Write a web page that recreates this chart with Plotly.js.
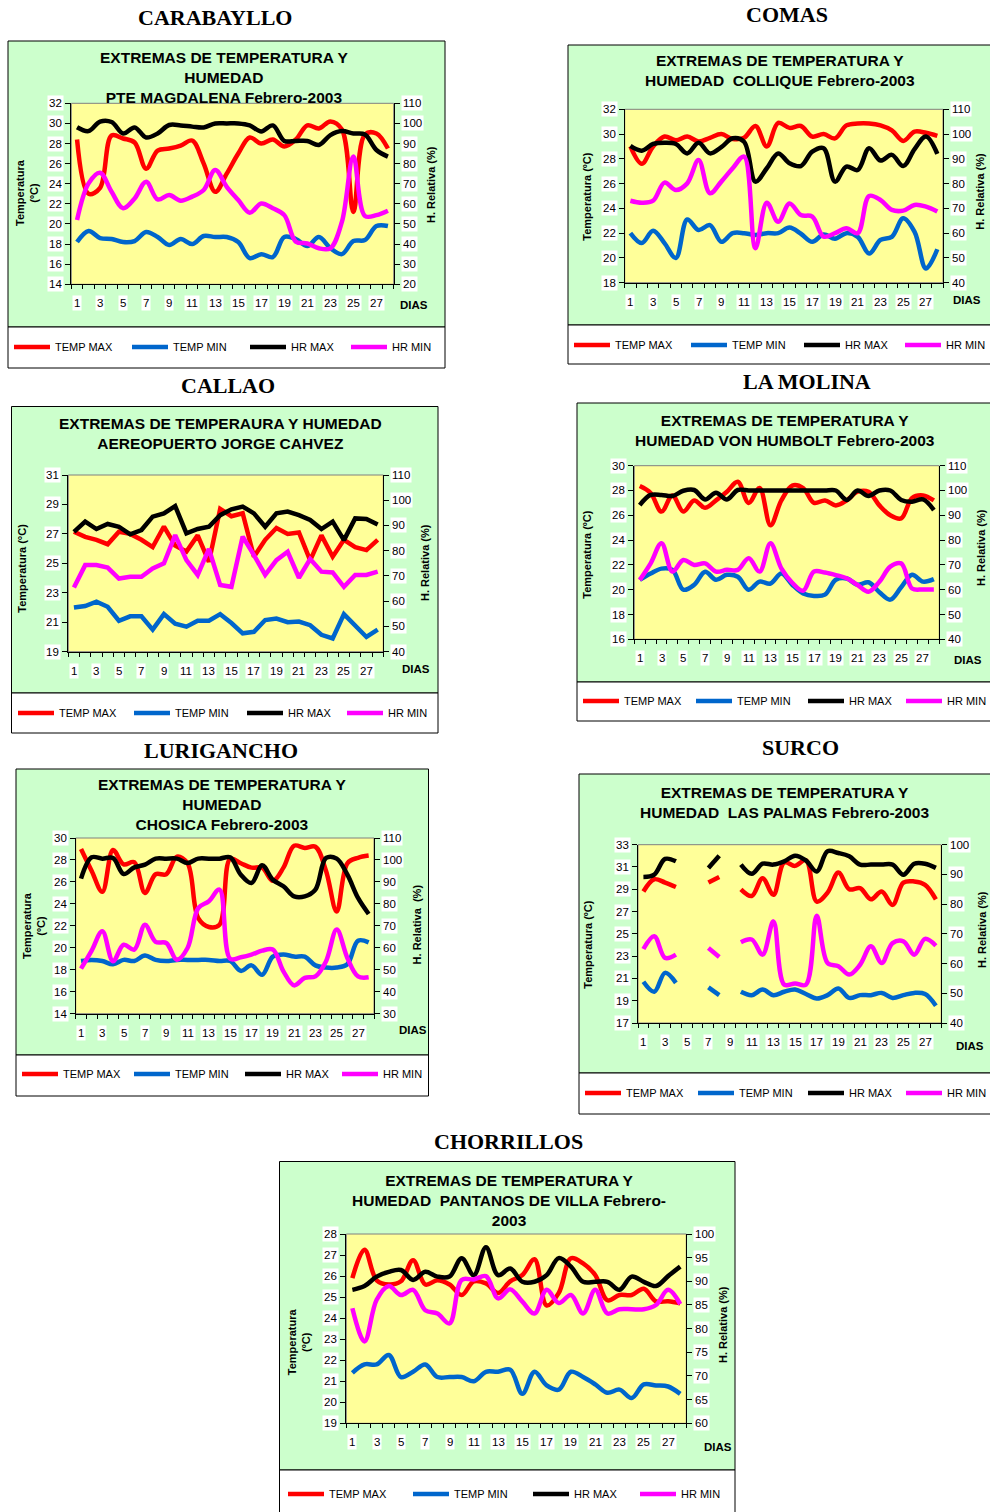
<!DOCTYPE html>
<html><head><meta charset="utf-8">
<script src="https://cdn.plot.ly/plotly-3.0.1.min.js"></script>
<style>body{margin:0;padding:0;background:#fff;overflow:hidden}</style>
</head><body><div id="chart" style="width:990px;height:1512px"></div>
<script>
// ---------- DATA ----------
const days = [1,2,3,4,5,6,7,8,9,10,11,12,13,14,15,16,17,18,19,20,21,22,23,24,25,26,27,28];
const tickDays = [1,3,5,7,9,11,13,15,17,19,21,23,25,27];
const dayLabels = ['1','3','5','7','9','11','13','15','17','19','21','23','25','27'];
const seriesNames = ['TEMP MAX','TEMP MIN','HR MAX','HR MIN'];
const seriesColors = ['#FF0000','#0066CC','#000000','#FF00FF'];

// CARABAYLLO - PTE MAGDALENA
const carabaylloTempMax = [28.4,23.0,23.6,28.8,28.5,28.1,25.5,27.3,27.5,27.8,28.3,26.0,23.2,25.0,27.0,28.6,28.0,28.4,27.7,28.4,29.8,29.5,30.2,29.4,21.2,28.9,29.0,27.5];
const carabaylloTempMin = [18.2,19.3,18.6,18.5,18.2,18.3,19.2,18.7,17.9,18.5,18.0,18.8,18.7,18.7,18.2,16.6,17.0,16.7,18.7,18.5,17.8,18.7,17.6,17.0,18.3,18.4,19.8,19.8];
const carabaylloHrMax = [98.1,96.2,100.9,100.7,95.0,98.0,93.0,95.0,99.2,99.0,98.4,98.0,100.0,100.0,100.0,99.0,96.0,99.0,91.3,91.3,91.3,89.3,94.2,96.2,95.0,94.5,86.8,83.5];
const carabaylloHrMin = [52.0,70.2,75.5,66.0,57.8,62.7,71.0,62.2,64.4,61.6,63.6,66.9,76.8,68.5,61.9,55.6,60.2,57.8,54.4,41.2,40.3,37.9,37.9,51.0,83.5,54.0,54.4,56.6];

// COMAS - COLLIQUE
const comasTempMax = [29.0,27.6,29.0,29.8,29.5,29.8,29.4,29.7,30.0,29.6,29.7,30.65,29.0,30.9,30.5,30.65,29.8,30.0,29.65,30.7,30.85,30.85,30.7,30.3,29.45,30.2,30.1,29.85];
const comasTempMin = [22.0,21.2,22.2,21.2,20.0,23.1,22.25,22.65,21.3,22.0,22.0,21.85,22.0,22.0,22.45,21.95,21.3,21.9,21.55,22.0,21.7,20.35,21.45,21.7,23.2,22.1,19.15,20.7];
const comasHrMax = [95.2,93.3,96.0,96.5,96.0,92.2,96.5,92.2,94.7,98.3,96.9,80.8,86.2,92.2,88.2,87.1,92.9,94.3,80.8,86.9,85.5,94.3,89.3,91.6,87.1,93.9,99.0,92.0];
const comasHrMin = [73.1,72.3,73.1,80.4,77.4,80.1,89.5,76.1,80.8,86.2,90.9,53.9,72.3,64.6,72.0,67.3,66.7,58.6,60.0,62.0,60.0,75.0,73.4,69.4,69.1,71.4,70.7,68.7];

// CALLAO - AEREOPUERTO JORGE CHAVEZ
const callaoTempMax = [27.15,26.8,26.6,26.3,27.15,27.0,26.6,26.1,27.5,26.2,25.8,26.9,25.1,28.7,28.2,28.4,25.45,26.6,27.4,27.0,27.1,25.2,26.9,25.45,26.6,26.1,25.9,26.6];
const callaoTempMin = [22.0,22.1,22.4,22.05,21.1,21.4,21.4,20.5,21.55,20.9,20.7,21.1,21.1,21.55,20.95,20.25,20.35,21.15,21.25,21.0,21.05,20.8,20.15,19.9,21.55,20.8,20.0,20.5];
const callaoHrMax = [87.5,91.5,88.6,90.6,89.5,86.5,88.2,93.5,94.8,97.7,86.9,88.6,89.5,94.1,96.4,97.5,94.8,89.5,94.8,95.5,94.1,92.2,88.6,91.5,84.2,92.8,92.6,90.4];
const callaoHrMin = [65.4,74.3,74.3,73.3,69.0,69.7,69.7,73.0,75.0,86.2,76.3,70.4,80.7,66.4,65.7,85.6,78.3,70.4,76.3,79.6,69.3,76.7,71.7,71.4,65.7,70.4,70.4,71.7];

// LA MOLINA - VON HUMBOLT
const molinaTempMax = [28.36,27.8,26.3,27.6,26.3,27.2,26.6,27.2,27.9,28.7,27.0,28.2,25.2,27.2,28.4,28.2,27.0,27.2,26.8,27.2,27.9,27.9,26.8,26.0,25.75,27.4,27.6,27.2];
const molinaTempMin = [20.8,21.3,21.7,21.6,20.0,20.4,21.45,20.8,21.2,21.05,20.0,20.65,20.5,21.3,20.4,19.7,19.5,19.6,20.8,20.9,20.4,20.6,19.8,19.2,20.2,21.2,20.65,20.85];
const molinaHrMax = [94.1,98.2,98.2,97.8,99.9,100.2,96.4,99.1,96.4,100.2,100,100,100,100,100,100,100,100,100,96.2,100,97.8,100,100,96.2,95.5,96.4,92.1];
const molinaHrMin = [63.9,70.6,78.7,67.3,72.0,70.0,70.6,67.3,68.0,68.0,72.7,67.3,78.7,68.6,62.8,59.6,67.3,66.9,65.9,64.6,61.9,59.2,63.2,69.3,70.6,60.5,60.1,60.1];

// LURIGANCHO - CHOSICA
const luriganchoTempMax = [29.0,27.0,25.1,28.9,27.6,27.8,25.0,26.7,26.7,28.3,27.7,22.7,21.9,22.1,28.1,27.7,27.3,27.3,26.1,27.3,29.3,29.1,29.2,27.0,23.3,27.7,28.2,28.4];
const luriganchoTempMin = [18.8,18.9,18.8,18.5,18.9,18.8,19.3,18.9,18.8,18.9,18.9,18.9,18.9,18.8,18.8,17.9,18.4,17.55,19.2,19.4,19.2,19.2,18.4,18.2,18.2,18.5,20.65,20.5];
const luriganchoHrMax = [91.5,101.2,100.6,100.9,93.6,96.6,97.9,100.6,100.6,100.6,98.6,100.6,100.6,100.6,101.2,93.3,89.5,97.6,91.0,88.0,83.4,83.4,86.5,100.9,100.6,93.3,82.7,75.4];
const luriganchoHrMin = [50.5,58.7,67.5,53.9,61.4,59.2,70.5,62.7,62.2,54.6,59.9,78.1,81.2,86.5,55.0,55.7,56.9,58.7,59.2,49.3,42.9,46.3,47.0,53.9,68.3,55.4,47.0,46.6];

// SURCO - LAS PALMAS (days 5, 6 and 9 missing)
const surcoTempMax = [28.8,29.9,29.6,29.2,null,null,29.6,30.1,null,29.0,28.4,30.0,28.5,31.4,31.1,31.6,27.9,28.7,30.5,29.0,29.1,28.1,28.8,27.6,29.6,29.7,29.4,28.1];
const surcoTempMin = [20.7,19.8,21.5,20.6,null,null,20.2,19.5,null,19.8,19.5,20.0,19.5,19.8,20.0,19.6,19.2,19.5,20.1,19.25,19.5,19.5,19.7,19.25,19.5,19.7,19.6,18.55];
const surcoHrMax = [89.1,89.9,95.2,94.4,null,null,92.2,96.3,null,93.3,90.2,93.6,93.3,94.4,96.3,94.7,91.0,97.8,97.2,96.1,93.3,93.3,93.3,93.3,89.9,93.6,93.6,92.2];
const surcoHrMin = [64.9,69.2,61.9,63.0,null,null,65.2,62.2,null,67.2,68.1,63.0,74.2,52.9,53.3,52.9,76.1,60.2,59.1,56.3,59.6,65.8,60.2,66.9,67.5,63.0,68.3,66.0];

// CHORRILLOS - PANTANOS DE VILLA
const chorrillosTempMax = [25.9,27.25,25.8,25.6,25.75,26.75,25.6,25.8,25.6,25.1,25.75,25.65,25.2,25.75,26.05,26.8,24.6,25.2,26.85,26.6,26.05,24.85,25.1,25.1,25.4,24.8,24.8,24.7];
const chorrillosTempMin = [21.4,21.8,21.8,22.25,21.2,21.45,21.8,21.2,21.2,21.2,21.0,21.45,21.45,21.55,20.4,21.45,20.8,20.6,21.45,21.2,20.85,20.45,20.6,20.2,20.85,20.8,20.75,20.4];
const chorrillosHrMax = [88.2,89.0,91.0,92.0,92.4,90.3,92.0,91.0,91.0,94.9,91.3,97.2,91.3,92.7,89.9,89.9,91.3,94.9,93.1,89.9,89.9,89.9,88.2,91.0,89.9,89.0,91.1,93.1];
const chorrillosHrMin = [84.3,77.3,86.1,89.0,87.1,88.2,83.9,83.2,81.1,90.3,90.4,91.1,86.4,88.3,85.7,83.2,88.2,85.4,87.1,83.2,88.2,83.2,84.1,84.1,84.1,85.0,88.2,85.2];

// ---------- PANELS (text + layout) ----------
const panels = [
 {header:'CARABAYLLO', title:'EXTREMAS DE TEMPERATURA Y<br>HUMEDAD<br>PTE MAGDALENA Febrero-2003',
  series:[carabaylloTempMax,carabaylloTempMin,carabaylloHrMax,carabaylloHrMin],
  tRange:[14,32], tDtick:2, hRange:[20,110], hDtick:10, smooth:true,
  box:[8,445,41,327,368], plot:[71.3,393.7,103.3,284.3], headerPos:[215,18], titlePos:[224,77],
  left:['Temperatura<br>(ºC)',27,193], right:['H. Relativa (%)',431,185], dias:[414,305],
  legend:[14,345], legAdv:[118,118,101]},
 {header:'COMAS', title:'EXTREMAS DE TEMPERATURA Y<br>HUMEDAD\u00a0 COLLIQUE Febrero-2003',
  series:[comasTempMax,comasTempMin,comasHrMax,comasHrMin],
  tRange:[18,32], tDtick:2, hRange:[40,110], hDtick:10, smooth:true,
  box:[568,993,45,325,364], plot:[624.7,943,109.3,282.7], headerPos:[787,14], titlePos:[780,70.7],
  left:['Temperatura (ºC)',587,196.7], right:['H. Relativa (%)',980,191.7], dias:[967,300],
  legend:[574,343], legAdv:[117,113,101]},
 {header:'CALLAO', title:'EXTREMAS DE TEMPERAURA Y HUMEDAD<br>AEREOPUERTO JORGE CAHVEZ',
  series:[callaoTempMax,callaoTempMin,callaoHrMax,callaoHrMin],
  tRange:[19,31], tDtick:2, hRange:[40,110], hDtick:10, smooth:false,
  box:[11.5,438,406.5,693,733], plot:[68.3,383.3,475,651.7], headerPos:[228,385], titlePos:[220,434],
  left:['Temperatura (°C)',21.7,568], right:['H. Relativa (%)',425,563], dias:[416,669],
  legend:[18,711], legAdv:[116,113,100]},
 {header:'LA MOLINA', title:'EXTREMAS DE TEMPERATURA Y<br>HUMEDAD VON HUMBOLT Febrero-2003',
  series:[molinaTempMax,molinaTempMin,molinaHrMax,molinaHrMin],
  tRange:[16,30], tDtick:2, hRange:[40,110], hDtick:10, smooth:true,
  box:[577,993,403,682,721], plot:[634.3,939.3,465.7,639.3], headerPos:[807,381], titlePos:[785,430.3],
  left:['Temperatura (ºC)',586.7,555], right:['H. Relativa (%)',981,548], dias:[967.7,660],
  legend:[583,699], legAdv:[113,112,98]},
 {header:'LURIGANCHO', title:'EXTREMAS DE TEMPERATURA Y<br>HUMEDAD<br>CHOSICA Febrero-2003',
  series:[luriganchoTempMax,luriganchoTempMin,luriganchoHrMax,luriganchoHrMin],
  tRange:[14,30], tDtick:2, hRange:[30,110], hDtick:10, smooth:true,
  box:[16,428.5,769,1055,1096], plot:[75.7,374,838,1013.7], headerPos:[221,750], titlePos:[221.7,804.7],
  left:['Temperatura<br>(ºC)',34,926], right:['H. Relativa\u00a0 (%)',416.7,924.7], dias:[413.3,1029.7],
  legend:[22,1072], legAdv:[112,111,97]},
 {header:'SURCO', title:'EXTREMAS DE TEMPERATURA Y<br>HUMEDAD\u00a0 LAS PALMAS Febrero-2003',
  series:[surcoTempMax,surcoTempMin,surcoHrMax,surcoHrMin],
  tRange:[17,33], tDtick:2, hRange:[40,100], hDtick:10, smooth:true,
  box:[579,993,774,1073,1114], plot:[638,941.3,844.7,1023], headerPos:[800,747], titlePos:[784.7,802],
  left:['Temperatura (ºC)',588,944.7], right:['H. Relativa (%)',981.3,929.7], dias:[969.7,1046.3],
  legend:[585,1091], legAdv:[113,110,98]},
 {header:'CHORRILLOS', title:'EXTREMAS DE TEMPERATURA Y<br>HUMEDAD\u00a0 PANTANOS DE VILLA Febrero-<br>2003',
  series:[chorrillosTempMax,chorrillosTempMin,chorrillosHrMax,chorrillosHrMin],
  tRange:[19,28], tDtick:1, hRange:[60,100], hDtick:5, smooth:true,
  box:[279.5,735,1161.5,1470,1514], plot:[346.3,686.3,1234,1423.3], headerPos:[508,1141], titlePos:[509,1200.7],
  left:['Temperatura<br>(ºC)',298.5,1341.7], right:['H. Relativa (%)',723,1325], dias:[718,1446.7],
  legend:[288,1492], legAdv:[125,120,107]}
];

// ---------- BUILD ----------
const W = 990, H = 1512;
const X = v => v / W, Y = v => 1 - v / H;
const SANS = 'Liberation Sans, Arial, sans-serif';
const SERIF = 'Liberation Serif, Times New Roman, serif';
const LEG_ITEM = 36;           // legend symbol length
const LEG_GAP = LEG_ITEM + 15; // symbol + internal gaps used by plotly

const layout = {
  width: W, height: H, margin: {l:0, r:0, t:0, b:0, autoexpand:false},
  paper_bgcolor: '#ffffff', plot_bgcolor: 'rgba(0,0,0,0)',
  showlegend: true, shapes: [], annotations: [], hovermode: false
};
const traces = [];

function axisTicks(range, dt) {
  const out = [];
  for (let v = range[0]; v <= range[1] + 1e-9; v += dt) out.push(Math.round(v * 100) / 100);
  return out;
}

panels.forEach((p, i) => {
  const k = i + 1;
  const xa = k === 1 ? 'xaxis' : 'xaxis' + k, xr = k === 1 ? 'x' : 'x' + k;
  const n1 = 2 * k - 1, n2 = 2 * k;
  const ya1 = n1 === 1 ? 'yaxis' : 'yaxis' + n1, yr1 = n1 === 1 ? 'y' : 'y' + n1;
  const ya2 = 'yaxis' + n2, yr2 = 'y' + n2;
  const lg = k === 1 ? 'legend' : 'legend' + k;

  layout.shapes.push({type:'rect', xref:'paper', yref:'paper', layer:'below',
    x0:X(p.box[0]), x1:X(p.box[1]), y0:Y(p.box[3]), y1:Y(p.box[2]),
    fillcolor:'#CCFFCC', line:{color:'#000', width:1}});
  layout.shapes.push({type:'rect', xref:'paper', yref:'paper', layer:'below',
    x0:X(p.box[0]), x1:X(p.box[1]), y0:Y(p.box[4]), y1:Y(p.box[3]),
    fillcolor:'#FFFFFF', line:{color:'#000', width:1}});
  layout.shapes.push({type:'rect', xref:xr + ' domain', yref:yr1 + ' domain', layer:'below',
    x0:0, x1:1, y0:0, y1:1, fillcolor:'#FFFF99', line:{color:'#808080', width:1}});

  const common = {showline:true, linecolor:'#000', linewidth:1, showgrid:false, zeroline:false,
    showticklabels:false, fixedrange:true};
  layout[xa] = Object.assign({
    domain:[X(p.plot[0]), X(p.plot[1])], anchor:yr1, range:[0.5, 28.5],
    tickmode:'array', tickvals:tickDays, ticks:'',
    minor:{tickmode:'linear', tick0:0.5, dtick:1, ticks:'outside', ticklen:4, tickcolor:'#000', tickwidth:1, showgrid:false}
  }, common);
  layout[ya1] = Object.assign({
    domain:[Y(p.plot[3]), Y(p.plot[2])], anchor:xr, range:p.tRange,
    tickmode:'linear', tick0:p.tRange[0], dtick:p.tDtick, ticks:'outside', ticklen:5, tickcolor:'#000'
  }, common);
  layout[ya2] = Object.assign({
    overlaying:yr1, side:'right', anchor:xr, range:p.hRange,
    tickmode:'linear', tick0:p.hRange[0], dtick:p.hDtick, ticks:'outside', ticklen:5, tickcolor:'#000'
  }, common);

  // tick labels with white label boxes (Excel style), placed through the axes
  const lblFont = {family:SANS, size:11.5, color:'#000'};
  tickDays.forEach((d, j) => layout.annotations.push({xref:xr, yref:yr1 + ' domain', x:d, y:0,
    xanchor:'center', yanchor:'top', yshift:-11, showarrow:false, text:dayLabels[j],
    bgcolor:'#FFFFFF', borderpad:1, font:lblFont}));
  axisTicks(p.tRange, p.tDtick).forEach(v => layout.annotations.push({xref:xr + ' domain', yref:yr1, x:0, y:v,
    xanchor:'right', yanchor:'middle', xshift:-7, showarrow:false, text:String(v),
    bgcolor:'#FFFFFF', borderpad:1, font:lblFont}));
  axisTicks(p.hRange, p.hDtick).forEach(v => layout.annotations.push({xref:xr + ' domain', yref:yr2, x:1, y:v,
    xanchor:'left', yanchor:'middle', xshift:7, showarrow:false, text:String(v),
    bgcolor:'#FFFFFF', borderpad:1, font:lblFont}));

  p.series.forEach((vals, j) => {
    const t = {
      type:'scatter', mode:'lines', x:days, y:vals, name:seriesNames[j],
      xaxis:xr, yaxis: j < 2 ? yr1 : yr2, legend:lg, connectgaps:false,
      line:{color:seriesColors[j], width:4.5, shape:p.smooth ? 'spline' : 'linear', smoothing:1},
      hoverinfo:'skip'
    };
    if (j < 3) t.legendwidth = p.legAdv[j] - LEG_GAP;
    traces.push(t);
  });

  layout[lg] = {
    x:X(p.legend[0] - 5), y:Y(p.legend[1] + 2), xanchor:'left', yanchor:'middle',
    orientation:'h', bgcolor:'rgba(0,0,0,0)', borderwidth:0, itemwidth:LEG_ITEM,
    font:{family:SANS, size:11, color:'#000'}, traceorder:'normal',
    itemclick:false, itemdoubleclick:false
  };

  layout.annotations.push({xref:'paper', yref:'paper', x:X(p.headerPos[0]), y:Y(p.headerPos[1]),
    xanchor:'center', yanchor:'middle', showarrow:false, text:'<b>' + p.header + '</b>',
    font:{family:SERIF, size:22, color:'#000'}});
  layout.annotations.push({xref:'paper', yref:'paper', x:X(p.titlePos[0]), y:Y(p.titlePos[1]),
    xanchor:'center', yanchor:'middle', showarrow:false, text:'<b>' + p.title + '</b>',
    font:{family:SANS, size:15.5, color:'#000'}});
  layout.annotations.push({xref:'paper', yref:'paper', x:X(p.left[1]), y:Y(p.left[2]),
    xanchor:'center', yanchor:'middle', showarrow:false, textangle:-90, text:'<b>' + p.left[0] + '</b>',
    font:{family:SANS, size:11, color:'#000'}});
  layout.annotations.push({xref:'paper', yref:'paper', x:X(p.right[1]), y:Y(p.right[2]),
    xanchor:'center', yanchor:'middle', showarrow:false, textangle:-90, text:'<b>' + p.right[0] + '</b>',
    font:{family:SANS, size:11, color:'#000'}});
  layout.annotations.push({xref:'paper', yref:'paper', x:X(p.dias[0]), y:Y(p.dias[1]),
    xanchor:'center', yanchor:'middle', showarrow:false, text:'<b>DIAS</b>',
    font:{family:SANS, size:11.5, color:'#000'}});
});

Plotly.newPlot('chart', traces, layout, {staticPlot:true, displayModeBar:false});
</script>
</body></html>
